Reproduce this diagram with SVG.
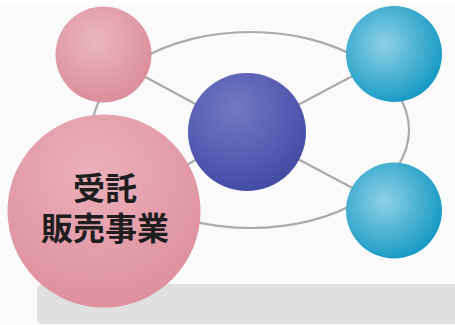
<svg xmlns="http://www.w3.org/2000/svg" width="455" height="325" viewBox="0 0 455 325">
<defs>
<radialGradient id="gPink" cx="0.42" cy="0.35" r="0.65">
<stop offset="0" stop-color="#eab7c1"/>
<stop offset="1" stop-color="#dc8e9c"/>
</radialGradient>
<radialGradient id="gBig" cx="0.45" cy="0.3" r="0.7">
<stop offset="0" stop-color="#eab0bb"/>
<stop offset="1" stop-color="#de909e"/>
</radialGradient>
<radialGradient id="gBlue" cx="0.4" cy="0.3" r="0.7">
<stop offset="0" stop-color="#7378c4"/>
<stop offset="1" stop-color="#454ca6"/>
</radialGradient>
<radialGradient id="gCyan" cx="0.4" cy="0.4" r="0.65">
<stop offset="0" stop-color="#8fd1e5"/>
<stop offset="1" stop-color="#1398c4"/>
</radialGradient>
<style>
.conn{fill:none;stroke:#aaaaaa;stroke-width:2.2}
.lbl{font-family:"Noto Sans CJK JP","Noto Sans CJK SC",sans-serif;font-weight:bold;font-size:32px;fill:#1e1e1e;text-anchor:middle}
</style>
</defs>
<rect width="455" height="325" fill="#fafafa"/>
<rect width="455" height="5" fill="#ffffff"/>
<rect x="37" y="284" width="430" height="40" rx="6" fill="#e0e0e0"/>
<g id="connectors">
<ellipse class="conn" cx="250.5" cy="130" rx="158.5" ry="98"/>
<line class="conn" x1="247" y1="132" x2="103" y2="54"/>
<line class="conn" x1="247" y1="132" x2="394" y2="54"/>
<line class="conn" x1="247" y1="132" x2="394" y2="210"/>
<line class="conn" x1="247" y1="132" x2="104" y2="210"/>
</g>
<g id="node-center"><circle cx="247" cy="132" r="59" fill="url(#gBlue)"/></g>
<g id="node-topleft"><circle cx="103.5" cy="54.5" r="48" fill="url(#gPink)"/></g>
<g id="node-topright"><circle cx="394" cy="54" r="48" fill="url(#gCyan)"/></g>
<g id="node-bottomright"><circle cx="394" cy="210.5" r="48" fill="url(#gCyan)"/></g>
<g id="node-main">
<circle cx="104" cy="211" r="96.5" fill="url(#gBig)"/>
<text class="lbl"><tspan x="105" y="200">受託</tspan><tspan x="105" y="240">販売事業</tspan></text>
</g>
</svg>
